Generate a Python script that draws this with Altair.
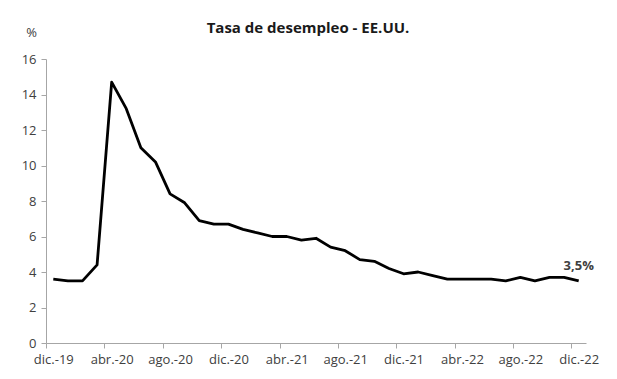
import altair as alt
import pandas as pd

months = ["dic.-19", "ene.-20", "feb.-20", "mar.-20", "abr.-20", "may.-20", "jun.-20",
          "jul.-20", "ago.-20", "sep.-20", "oct.-20", "nov.-20", "dic.-20", "ene.-21",
          "feb.-21", "mar.-21", "abr.-21", "may.-21", "jun.-21", "jul.-21", "ago.-21",
          "sep.-21", "oct.-21", "nov.-21", "dic.-21", "ene.-22", "feb.-22", "mar.-22",
          "abr.-22", "may.-22", "jun.-22", "jul.-22", "ago.-22", "sep.-22", "oct.-22",
          "nov.-22", "dic.-22"]
rates = [3.6, 3.5, 3.5, 4.4, 14.7, 13.2, 11.0, 10.2, 8.4, 7.9, 6.9, 6.7, 6.7, 6.4,
         6.2, 6.0, 6.0, 5.8, 5.9, 5.4, 5.2, 4.7, 4.6, 4.2, 3.9, 4.0, 3.8, 3.6,
         3.6, 3.6, 3.6, 3.5, 3.7, 3.5, 3.7, 3.7, 3.5]
tick_labels = ["dic.-19", "abr.-20", "ago.-20", "dic.-20", "abr.-21", "ago.-21",
               "dic.-21", "abr.-22", "ago.-22", "dic.-22"]
y_ticks = [0, 2, 4, 6, 8, 10, 12, 14, 16]
title_text = "Tasa de desempleo - EE.UU."

n = len(rates)
df = pd.DataFrame({"i": list(range(n)), "mes": months, "tasa": rates})

W, H = 540, 284
step = W / n
tick_vals = [k * 4 - 0.5 for k in range(len(tick_labels))]
label_arr = "[" + ",".join(f"'{t}'" for t in tick_labels) + "]"
label_expr = f"{label_arr}[round((datum.value + 0.5) / 4)]"

FONT = "Open Sans"
GREY_TXT = "#404040"
GREY_AX = "#a6a6a6"

x = alt.X("i:Q",
          scale=alt.Scale(domain=[-0.5, n - 0.5], nice=False, zero=False),
          axis=alt.Axis(values=tick_vals, labelExpr=label_expr, labelOffset=step / 2,
                        title=None, grid=False, domainColor=GREY_AX, tickColor=GREY_AX,
                        tickSize=5, labelPadding=5, labelFontSize=13, labelColor=GREY_TXT,
                        labelFont=FONT, labelFlush=False, labelOverlap=False))
y = alt.Y("tasa:Q",
          scale=alt.Scale(domain=[0, 16], nice=False),
          axis=alt.Axis(values=y_ticks, tickCount=len(y_ticks), title="%", titleAngle=0,
                        titleX=-15, titleY=-20,
                        titleFontSize=13, titleFontWeight="normal", titleColor=GREY_TXT,
                        titleFont=FONT, grid=False, domainColor=GREY_AX, tickColor=GREY_AX,
                        tickSize=5, labelPadding=5, labelFontSize=13, labelColor=GREY_TXT,
                        labelFont=FONT, labelOverlap=False, labelFlush=False))

line = alt.Chart(df).mark_line(color="black", strokeWidth=2.8, strokeJoin="round").encode(x=x, y=y)

label = alt.Chart(df).transform_filter(
    alt.datum.i == n - 1
).transform_calculate(
    txt="replace(format(datum.tasa, '.1f'), '.', ',') + '%'"
).mark_text(font=FONT, fontSize=13, fontWeight="bold", color=GREY_TXT, dy=-15).encode(
    x=x, y=y, text="txt:N")

title = alt.Chart(pd.DataFrame({"t": [title_text]})).mark_text(
    font=FONT, fontSize=15, fontWeight="bold", color="#1a1a1a", align="center",
    baseline="alphabetic"
).encode(x=alt.value(262), y=alt.value(-26), text="t:N")

chart = alt.layer(line, label, title).properties(
    width=W, height=H,
    autosize=alt.AutoSizeParams(type="none"),
    padding={"left": 38, "top": 51, "right": 23, "bottom": 28},
).configure_view(stroke=None)

chart.save("out.html", embed_options={"renderer": "svg", "actions": False})
